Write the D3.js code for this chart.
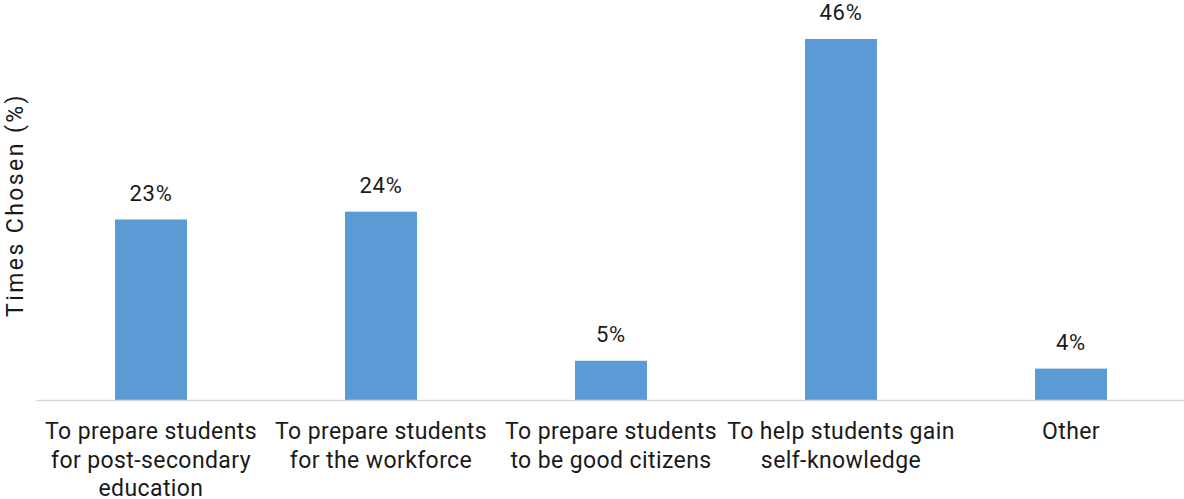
<!DOCTYPE html>
<html><head><meta charset="utf-8">
<script src="https://cdn.jsdelivr.net/npm/d3@7/dist/d3.min.js"></script>
<style>body{margin:0;background:#fff}svg{display:block}text{font-family:Roboto,"Noto Sans",sans-serif}</style>
</head><body>
<script>
const categories = ["To prepare students for post-secondary education","To prepare students for the workforce","To prepare students to be good citizens","To help students gain self-knowledge","Other"];
const values = [23, 24, 5, 46, 4];
const yLabel = "Times Chosen (%)";

const W = 1184, H = 499;
const svg = d3.select("body").append("svg").attr("width", W).attr("height", H);
const x = d3.scaleBand().domain(categories).range([36, 1186]).paddingInner(0.687).paddingOuter(0.3435);
const y = d3.scaleLinear().domain([0, 46]).range([400, 39]);

function spacingFor(str, fs, target){
  const t = svg.append("text").attr("font-size", fs).text(str);
  const w = t.node().getComputedTextLength(); t.remove();
  return (target - w) / str.length;
}
const FS = 23;
const lsCat = spacingFor("To prepare students", FS, 212);
const lsVal = spacingFor("23%", 22, 43);
const lsY = spacingFor(yLabel, FS, 224);

svg.selectAll("rect.bar").data(values).enter().append("rect")
  .attr("x", (d,i) => x(categories[i])).attr("width", x.bandwidth())
  .attr("y", d => y(d)).attr("height", d => y(0) - y(d)).attr("fill", "#5B9BD5");

svg.selectAll("text.val").data(values).enter().append("text")
  .attr("x", (d,i) => x(categories[i]) + x.bandwidth()/2).attr("y", d => y(d) - 19)
  .attr("text-anchor","middle").attr("font-size", 22).attr("letter-spacing", lsVal)
  .attr("fill","#1a1a1a").text(d => d + "%");

const ax = svg.append("g").attr("transform", `translate(0,${y(0)})`)
  .call(d3.axisBottom(x).tickSize(0).tickPadding(0).tickFormat(""));
ax.select(".domain").attr("stroke","#d9d9d9").attr("stroke-width",1.5).attr("d","M36,0.5H1184");

function wrapLines(str, maxW, fs, ls){
  const t = svg.append("text").attr("font-size", fs).attr("letter-spacing", ls);
  const words = str.split(" "); const lines = []; let cur = "";
  words.forEach(w => {
    const test = cur ? cur + " " + w : w;
    t.text(test);
    if (t.node().getComputedTextLength() > maxW && cur) { lines.push(cur); cur = w; } else cur = test;
  });
  if (cur) lines.push(cur);
  t.remove(); return lines;
}
categories.forEach(c => {
  const lines = wrapLines(c, 236, FS, lsCat);
  const t = svg.append("text").attr("text-anchor","middle").attr("font-size",FS)
    .attr("letter-spacing", lsCat).attr("fill","#1a1a1a");
  lines.forEach((l,i) => t.append("tspan").attr("x", x(c) + x.bandwidth()/2).attr("y", 439 + i*28.5).text(l));
});

svg.append("text").attr("transform","translate(23,205) rotate(-90)").attr("text-anchor","middle")
  .attr("font-size",FS).attr("letter-spacing", lsY).attr("fill","#1a1a1a").text(yLabel);
</script>
</body></html>
